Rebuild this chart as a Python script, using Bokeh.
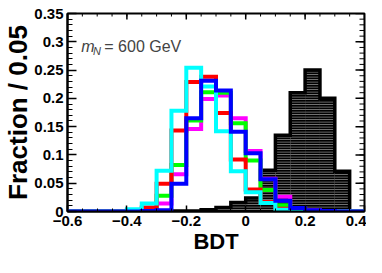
import numpy as np
from bokeh.plotting import figure
from bokeh.models import Label, LinearAxis, FixedTicker, Range1d
from bokeh.embed import file_html
from bokeh.resources import INLINE

# ---- data (fraction per 0.05 bin, BDT from -0.6 to 0.4) ----
bin_edges = [-0.6, -0.55, -0.5, -0.45, -0.4, -0.35, -0.3, -0.25, -0.2, -0.15,
             -0.1, -0.05, 0.0, 0.05, 0.1, 0.15, 0.2, 0.25, 0.3, 0.35, 0.4]
signal  = [0, 0, 0, 0, 0, 0, 0, 0.001, 0.001, 0.003, 0.007, 0.016, 0.024,
           0.073, 0.135, 0.21, 0.25, 0.20, 0.071, 0.0]
magenta = [0, 0, 0, 0, 0.001, 0.004, 0.014, 0.066, 0.146, 0.199, 0.205, 0.165,
           0.107, 0.058, 0.026, 0.006, 0.002, 0, 0, 0]
green   = [0, 0, 0, 0, 0.001, 0.004, 0.028, 0.082, 0.161, 0.211, 0.21, 0.156,
           0.09, 0.038, 0.011, 0.003, 0.001, 0, 0, 0]
red     = [0, 0, 0, 0, 0.002, 0.007, 0.049, 0.143, 0.229, 0.238, 0.174, 0.092,
           0.039, 0.017, 0.005, 0.002, 0.001, 0, 0, 0]
cyan    = [0, 0, 0, 0, 0.004, 0.014, 0.072, 0.178, 0.254, 0.221, 0.142, 0.071,
           0.034, 0.015, 0.003, 0.002, 0.001, 0, 0, 0]
blue    = [0, 0, 0, 0, 0, 0.001, 0.002, 0.049, 0.165, 0.231, 0.214, 0.141,
           0.103, 0.057, 0.019, 0.006, 0.002, 0.001, 0, 0]

x_ticks = [-0.6, -0.4, -0.2, 0, 0.2, 0.4]
x_tick_labels = ["\u22120.6", "\u22120.4", "\u22120.2", "0", "0.2", "0.4"]
y_ticks = [0, 0.05, 0.1, 0.15, 0.2, 0.25, 0.3, 0.35]
y_tick_labels = ["0", "0.05", "0.1", "0.15", "0.2", "0.25", "0.3", "0.35"]

FONT = "Liberation Sans"
X0, X1, Y0, Y1 = -0.6, 0.4, 0.0, 0.35

p = figure(width=366, height=257, x_range=Range1d(X0, X1),
           y_range=Range1d(Y0, Y1), output_backend="svg", toolbar_location=None,
           min_border_left=62, min_border_right=2, min_border_top=13,
           min_border_bottom=46, x_axis_location=None, y_axis_location=None)
p.background_fill_color = "white"
p.border_fill_color = "white"
p.xgrid.visible = False
p.ygrid.visible = False
p.outline_line_color = "black"
p.outline_line_width = 2

x_minor = list(np.round(np.arange(-0.6, 0.4001, 0.05), 3))
y_minor = list(np.round(np.arange(0, 0.3501, 0.01), 3))


def make_axis(kind):
    ax = LinearAxis()
    if kind == "x":
        ax.ticker = FixedTicker(ticks=x_ticks, minor_ticks=x_minor)
        ax.major_tick_in, ax.minor_tick_in = 6, 3
        ax.major_label_overrides = dict(zip(x_ticks, x_tick_labels))
        ax.major_label_standoff = 4
        ax.axis_label = "BDT"
        ax.axis_label_text_font_size = "22px"
        ax.axis_label_standoff = 0
    else:
        ax.ticker = FixedTicker(ticks=y_ticks, minor_ticks=y_minor)
        ax.major_tick_in, ax.minor_tick_in = 9, 5
        ax.major_label_overrides = dict(zip(y_ticks, y_tick_labels))
        ax.major_label_standoff = 4
        ax.axis_label = "Fraction / 0.05"
        ax.axis_label_text_font_size = "26px"
        ax.axis_label_standoff = -2
    ax.axis_label_text_font = FONT
    ax.axis_label_text_font_style = "bold"
    ax.axis_label_text_color = "black"
    ax.major_tick_out = 0
    ax.minor_tick_out = 0
    ax.axis_line_width = 2
    ax.major_tick_line_width = 1.5
    ax.minor_tick_line_width = 1
    ax.major_label_text_font = FONT
    ax.major_label_text_font_style = "bold"
    ax.major_label_text_color = "black"
    ax.major_label_text_font_size = "15px"
    return ax


p.add_layout(make_axis("x"), "below")
p.add_layout(make_axis("y"), "left")

# mirrored ticks on the top and right edges of the frame
p.ray(x=x_ticks, y=Y1, length=6, length_units="screen", angle=-np.pi / 2,
      line_color="black", line_width=1.5)
p.ray(x=x_minor, y=Y1, length=3, length_units="screen", angle=-np.pi / 2,
      line_color="black", line_width=1)
p.ray(x=X1, y=y_ticks, length=9, length_units="screen", angle=np.pi,
      line_color="black", line_width=1.5)
p.ray(x=X1, y=y_minor, length=5, length_units="screen", angle=np.pi,
      line_color="black", line_width=1)

edges = np.array(bin_edges)


def step_path(vals):
    v = np.array(vals, dtype=float)
    xs = np.concatenate([[edges[0]], np.repeat(edges, 2)[1:-1], [edges[-1]]])
    ys = np.concatenate([[0.0], np.repeat(v, 2), [0.0]])
    return xs, ys


# signal: filled, hatched
p.quad(left=edges[:-1], right=edges[1:], top=signal, bottom=0,
       fill_color="black", line_color=None,
       hatch_pattern="-", hatch_color="#8c8c8c", hatch_scale=2.5, hatch_weight=1)
sx, sy = step_path(signal)
p.line(sx, sy, line_color="black", line_width=3.5, line_join="miter")

for vals, col in [(magenta, "#ff00ff"), (green, "#00ff00"), (red, "#ff0000"),
                  (cyan, "#00ffff"), (blue, "#0000ff")]:
    xs, ys = step_path(vals)
    p.line(xs, ys, line_color=col, line_width=4, line_join="miter")

# label inside the frame
p.add_layout(Label(x=-0.5538, y=0.2917, text="m", text_font=FONT,
                   text_font_style="italic", text_font_size="16px",
                   text_baseline="alphabetic"))
p.add_layout(Label(x=-0.514, y=0.283, text="N", text_font=FONT,
                   text_font_style="italic", text_font_size="11px",
                   text_baseline="alphabetic"))
p.add_layout(Label(x=-0.476, y=0.2917, text="= 600 GeV", text_font=FONT,
                   text_font_size="16px", text_baseline="alphabetic"))

open("out.html", "w").write(file_html(p, INLINE))
